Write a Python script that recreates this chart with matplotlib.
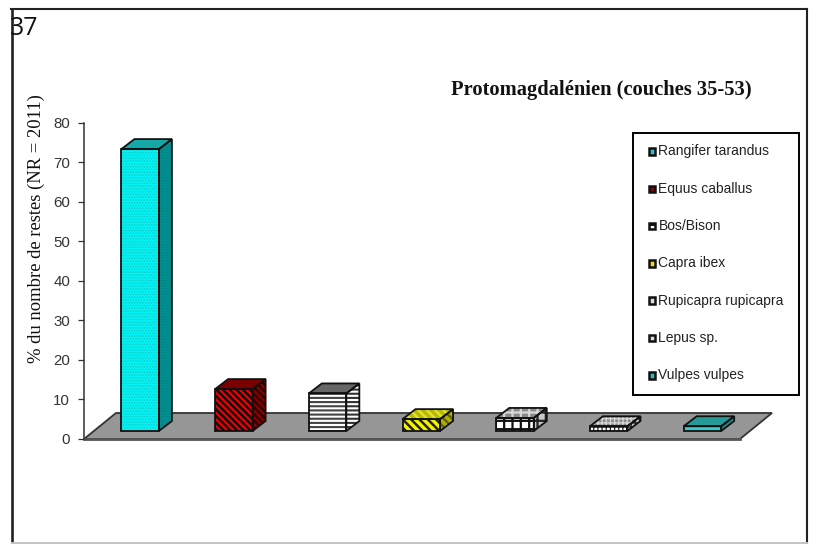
import matplotlib
matplotlib.use("Agg")
import matplotlib.pyplot as plt
from matplotlib.patches import Polygon, Rectangle

W, H = 814, 544
categories = ["Rangifer tarandus", "Equus caballus", "Bos/Bison", "Capra ibex",
              "Rupicapra rupicapra", "Lepus sp.", "Vulpes vulpes"]
values = [71.3, 10.6, 9.5, 3.0, 3.3, 1.2, 1.2]
yticks = [0, 10, 20, 30, 40, 50, 60, 70, 80]
front_colors = ["#00f4f4", "#ee0000", "#ffffff", "#f4f400", "#ffffff", "#ffffff", "#33cccc"]
top_colors = ["#14a8a8", "#7a0000", "#666666", "#b8b800", "#8a8a8a", "#8a8a8a", "#269999"]
side_colors = ["#009090", "#8a0000", "#ffffff", "#b0b000", "#c8c8c8", "#c0c0c0", "#1f8a8a"]
hatches = ["......", "\\\\\\\\\\", "----", "\\\\\\\\", "++", "++++", None]
front_hatch_colors = ["#18c8c8", "#111111", "#444444", "#222222", "#111111", "#222222", None]
side_hatch_colors = ["#008080", "#300000", "#333333", "#666600", "#222222", "#222222", None]
top_hatch_colors = [None, None, None, "#e0e030", "#d8d8d8", "#d8d8d8", None]
hatch_widths = [0.8, 1.8, 1.5, 1.8, 1.6, 0.9, 0.8]
legend_face = ["#22c8d8", "#8b0000", "#ffffff", "#f0e000", "#dddddd", "#dddddd", "#33bbbb"]

fig = plt.figure(figsize=(W / 100, H / 100), dpi=100)

# full-figure pixel overlay for page furniture
pg = fig.add_axes([0, 0, 1, 1], zorder=0)
pg.set_xlim(0, W); pg.set_ylim(H, 0); pg.axis("off")
pg.plot([11.5, 11.5], [8.5, 544], color="#222222", lw=1.9)
pg.plot([11, 807], [8.5, 8.5], color="#222222", lw=1.5)
pg.plot([807, 807], [8.5, 544], color="#222222", lw=1.5)
pg.plot([12, 807], [543.3, 543.3], color="#c4c4c4", lw=1.4)

# chart axes: y is the value scale, x the category scale
L, R, B, T = 84, 740, 439, 122.7
ax = fig.add_axes([L / W, 1 - B / H, (R - L) / W, (B - T) / H], zorder=1)
ax.patch.set_alpha(0)
ax.set_xlim(-0.5, 6.5); ax.set_ylim(0, 80)
px = (R - L) / 7            # px per category
py = (B - T) / 80           # px per value unit
for s in ("top", "right", "bottom"):
    ax.spines[s].set_visible(False)
ax.spines["left"].set_color("#333333")
ax.spines["left"].set_linewidth(1.1)
ax.set_xticks([])
ax.set_yticks(yticks)
ax.tick_params(axis="y", length=4, width=0.9, pad=6, color="#333333")
ax.set_yticklabels([str(t) for t in yticks], family="Liberation Sans", fontsize=10.8, color="#333333")

# floor
ddx, ddy = 32 / px, 26 / py
ax.add_patch(Polygon([(-0.5, 0), (6.5, 0), (6.5 + ddx, ddy), (-0.5 + ddx, ddy)],
                     closed=True, fc="#969696", ec="#333333", lw=1.3, clip_on=False, zorder=1))
ax.plot([-0.5, 6.5], [0, 0], color="#555555", lw=2, zorder=1.5, clip_on=False)

# 3D bars
w = 37.5 / px
ox, oy = 9.3 / px, 8 / py
dx, dy = 13 / px, 10 / py


def face(pts, fc, hatch, hc, z):
    if hatch and hc:
        ax.add_patch(Polygon(pts, closed=True, fc=fc, ec=hc, hatch=hatch, lw=0, clip_on=False, zorder=z))
    else:
        ax.add_patch(Polygon(pts, closed=True, fc=fc, ec="none", clip_on=False, zorder=z))
    ax.add_patch(Polygon(pts, closed=True, fc="none", ec="#111111", lw=1.3, clip_on=False, zorder=z + 0.001))


for i, v in enumerate(values):
    plt.rcParams["hatch.linewidth"] = hatch_widths[i]
    x0, x1 = i - w / 2 + ox, i + w / 2 + ox
    y0, y1 = oy, oy + v
    z = 3 + i * 0.01
    face([(x1, y0), (x1 + dx, y0 + dy), (x1 + dx, y1 + dy), (x1, y1)],
         side_colors[i], hatches[i], side_hatch_colors[i], z)
    face([(x0, y1), (x1, y1), (x1 + dx, y1 + dy), (x0 + dx, y1 + dy)],
         top_colors[i], hatches[i], top_hatch_colors[i], z)
    face([(x0, y0), (x1, y0), (x1, y1), (x0, y1)],
         front_colors[i], hatches[i], front_hatch_colors[i], z)

# texts
pg.text(38, 28.5, "37", family="Open Sans", fontsize=18, color="#111111", ha="right", va="center", zorder=5)
pg.text(601.5, 89.5, "Protomagdalénien (couches 35-53)", family="Liberation Serif", fontweight="bold",
        fontsize=14.8, ha="center", va="center", color="#111111")
pg.text(36, 228.5, "% du nombre de restes (NR = 2011)", family="Liberation Serif", fontsize=13.4,
        rotation=90, ha="center", va="center", color="#111111")

# legend
lg = fig.add_axes([0, 0, 1, 1], zorder=2)
lg.set_xlim(0, W); lg.set_ylim(H, 0); lg.axis("off")
lg.add_patch(Rectangle((632.5, 132.5), 166.5, 262, fc="white", ec="black", lw=1.4))
plt.rcParams["hatch.linewidth"] = 1.4
legend_hatch = [None, None, "---", None, None, None, None]
for i, name in enumerate(categories):
    yc = 151.5 + i * 37.3
    lg.add_patch(Rectangle((648.5, yc - 3.3), 6.6, 6.6, fc=legend_face[i], ec="#111111", lw=1.8,
                           hatch=legend_hatch[i]))
    lg.text(658.5, yc, name, family="Liberation Sans", fontsize=10, va="center", ha="left", color="#222222")

fig.savefig("out.png", dpi=100)
